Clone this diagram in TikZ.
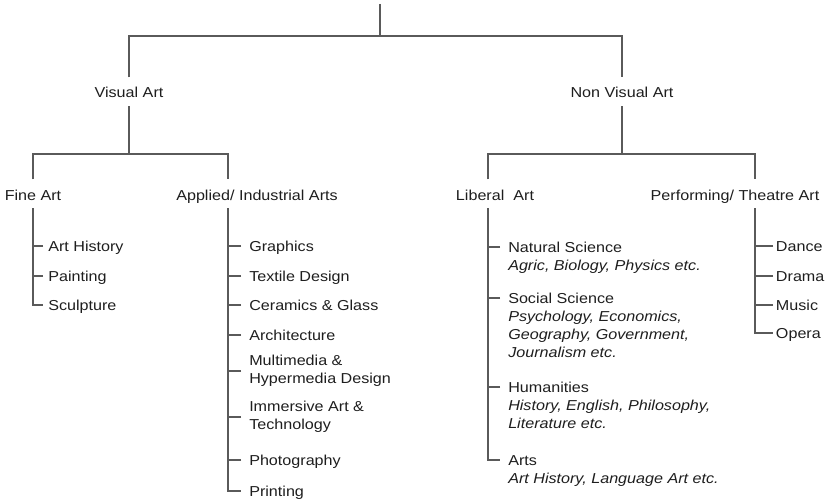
\documentclass[tikz,border=0pt]{standalone}
\usepackage{fontspec}
\setmainfont{Liberation Sans}[FakeStretch=1.12]
\usepackage{tikz}
\usetikzlibrary{positioning}
\definecolor{branchgray}{RGB}{90,90,90}
\definecolor{labelblack}{RGB}{30,30,30}

\begin{document}
\begin{tikzpicture}[x=0.02cm, y=-0.02cm,
    every node/.style={font=\fontsize{8.2}{10.2}\selectfont, text=labelblack},
    branch/.style={draw=branchgray, line width=0.7pt},
    category/.style={anchor=base, inner sep=0pt, text height=11.6pt, text depth=4.5pt},
    leaf/.style={anchor=west, inner xsep=4.5pt, inner ysep=0pt, text height=7.8pt, text depth=2pt},
    leafwrap/.style={anchor=west, inner xsep=4.5pt, inner ysep=0pt, align=left},
    note/.style={anchor=north west, inner xsep=4.5pt, inner ysep=0pt, align=left,
                 font=\fontsize{8.2}{10.2}\selectfont\itshape}]
    \useasboundingbox (0,0) rectangle (829,500);

    % top of the tree
    \coordinate (roottop) at (380,4);
    \coordinate (rootsplit) at (380,36);
    \node[category] (visual) at (129,98) {Visual Art};
    \node[category] (nonvisual) at (622,98) {Non Visual Art};
    \draw[branch] (roottop) -- (rootsplit);
    \draw[branch] (visual.north) |- (rootsplit) -| (nonvisual.north);

    % second level
    \coordinate (visualsplit) at (129,154);
    \coordinate (appliedstem) at (228,154);
    \coordinate (nonvisualsplit) at (622,154);
    \coordinate (liberalstem) at (488,154);
    \coordinate (performingstem) at (755,154);
    \node[category] (fine) at (33,200) {Fine Art};
    \node[category] (applied) at (257,200) {Applied/ Industrial Arts};
    \node[category] (liberal) at (495,200) {Liberal\ \ Art};
    \node[category] (performing) at (735,200) {Performing/ Theatre Art};
    \draw[branch] (visual.south) -- (visualsplit);
    \draw[branch] (fine.north) |- (visualsplit) -| (applied.north -| appliedstem);
    \draw[branch] (nonvisual.south) -- (nonvisualsplit);
    \draw[branch] (liberal.north -| liberalstem) |- (nonvisualsplit) -| (performing.north -| performingstem);

    % fine art
    \node[leaf, inner xsep=2.8pt] (arthistory) at (43,246) {Art History};
    \node[leaf, inner xsep=2.8pt] (painting) at (43,276) {Painting};
    \node[leaf, inner xsep=2.8pt] (sculpture) at (43,305) {Sculpture};
    \draw[branch] (fine.south) |- (sculpture.west);
    \foreach \n in {arthistory,painting}
        \draw[branch] (\n.west) -- (\n.west -| fine.south);

    % applied / industrial arts
    \node[leaf] (graphics) at (241,246) {Graphics};
    \node[leaf] (textile) at (241,276) {Textile Design};
    \node[leaf] (ceramics) at (241,305) {Ceramics \& Glass};
    \node[leaf] (architecture) at (241,335) {Architecture};
    \node[leafwrap] (multimedia) at (241,371) {Multimedia \&\\Hypermedia Design};
    \node[leafwrap] (immersive) at (241,417) {Immersive Art \&\\Technology};
    \node[leaf] (photography) at (241,460) {Photography};
    \node[leaf] (printing) at (241,491) {Printing};
    \draw[branch] (applied.south -| appliedstem) |- (printing.west);
    \foreach \n in {graphics,textile,ceramics,architecture,multimedia,immersive,photography}
        \draw[branch] (\n.west) -- (\n.west -| appliedstem);

    % liberal art
    \node[leaf] (natsci) at (500,247) {Natural Science};
    \node[below=1pt of natsci.south west, note] (natscinote) {\strut Agric, Biology, Physics etc.};
    \node[leaf] (socsci) at (500,298) {Social Science};
    \node[below=1pt of socsci.south west, note] (socscinote) {\strut Psychology, Economics,\\Geography, Government,\\Journalism etc.};
    \node[leaf] (humanities) at (500,387) {Humanities};
    \node[below=1pt of humanities.south west, note] (humanitiesnote) {\strut History, English, Philosophy,\\Literature etc.};
    \node[leaf] (arts) at (500,460) {Arts};
    \node[below=1pt of arts.south west, note] (artsnote) {\strut Art History, Language Art etc.};
    \draw[branch] (liberal.south -| liberalstem) |- (arts.west);
    \foreach \n in {natsci,socsci,humanities}
        \draw[branch] (\n.west) -- (\n.west -| liberalstem);

    % performing / theatre art
    \node[leaf, inner xsep=1.5pt] (dance) at (773,246) {Dance};
    \node[leaf, inner xsep=1.5pt] (drama) at (773,276) {Drama};
    \node[leaf, inner xsep=1.5pt] (music) at (773,305) {Music};
    \node[leaf, inner xsep=1.5pt] (opera) at (773,333) {Opera};
    \draw[branch] (performing.south -| performingstem) |- (opera.west);
    \foreach \n in {dance,drama,music}
        \draw[branch] (\n.west) -- (\n.west -| performingstem);
\end{tikzpicture}
\end{document}
